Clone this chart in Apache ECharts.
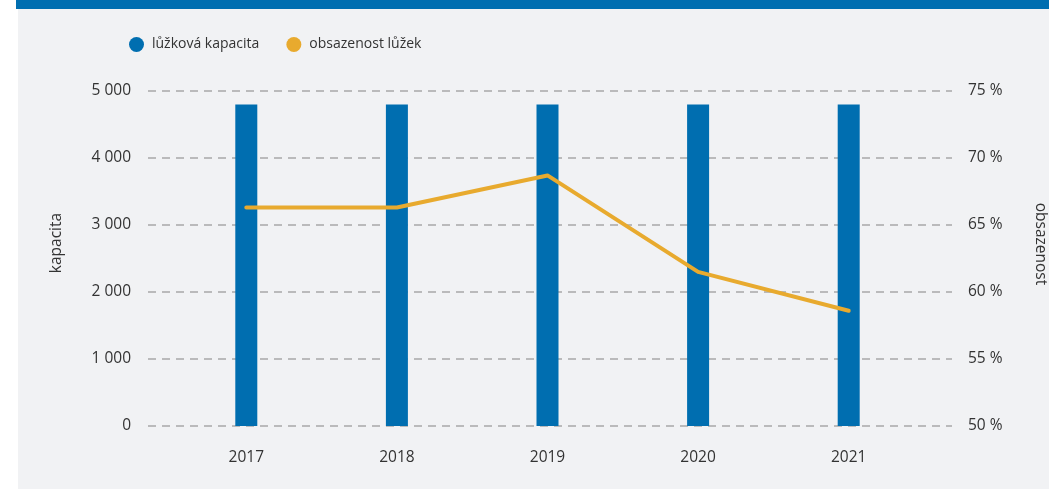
<!DOCTYPE html>
<html>
<head>
<meta charset="utf-8">
<script src="https://cdn.jsdelivr.net/npm/echarts@6/dist/echarts.min.js"></script>
<style>
  html, body { margin: 0; padding: 0; background: #fff; }
  #chart { width: 1049px; height: 489px; }
</style>
</head>
<body>
<div id="chart"></div>
<script>
// data
var years = ['2017', '2018', '2019', '2020', '2021']
var kapacita = [4800, 4800, 4800, 4800, 4800] // lůžková kapacita
var obsazenost = [66.3, 66.3, 68.7, 61.5, 58.6] // obsazenost lůžek v %
var leftTicks = [0, 5000, 1000]
var rightTicks = [50, 75, 5]

var blue = '#006eb0'
var orange = '#e8aa2e'
var txt = '#333333'
var font = 'Open Sans'

var chart = echarts.init(document.getElementById('chart'))

var option = {
  backgroundColor: '#ffffff',
  textStyle: { fontFamily: font },
  animation: false,
  graphic: [
    { type: 'rect', left: 18, top: 9, shape: { width: 1031, height: 480 }, style: { fill: '#f1f2f4' }, z: -10 },
    { type: 'rect', left: 16, top: 0, shape: { width: 1033, height: 9 }, style: { fill: '#006eb0' }, z: -10 },
    { type: 'text', x: 57, y: 243, rotation: Math.PI / 2, style: { text: 'kapacita', fill: txt, font: '15.5px "Open Sans"', align: 'center', verticalAlign: 'middle' } },
    { type: 'text', x: 1040, y: 244, rotation: -Math.PI / 2, style: { text: 'obsazenost', fill: txt, font: '15.5px "Open Sans"', align: 'center', verticalAlign: 'middle' } }
  ],
  legend: {
    left: 124,
    top: 32,
    icon: 'circle',
    itemWidth: 15,
    itemHeight: 15,
    itemGap: 27,
    textStyle: { color: txt, fontSize: 14, fontFamily: font, padding: [0, 0, 0, 3] },
    data: ['lůžková kapacita', 'obsazenost lůžek']
  },
  grid: [
    // grid for the gridlines and y labels
    { left: 148, right: 97, top: 91, bottom: 63 },
    // grid for the data
    { left: 171, right: 125, top: 91, bottom: 63 }
  ],
  xAxis: [
    { type: 'value', gridIndex: 0, show: false, min: 0, max: 1 },
    {
      type: 'category',
      gridIndex: 1,
      data: years,
      axisLine: { show: false },
      axisTick: { show: false },
      axisLabel: { color: txt, fontSize: 15.5, margin: 24 }
    }
  ],
  yAxis: [
    {
      type: 'value',
      gridIndex: 0,
      min: leftTicks[0],
      max: leftTicks[1],
      interval: leftTicks[2],
      axisLine: { show: false },
      axisTick: { show: false },
      axisLabel: {
        color: txt,
        fontSize: 15.5,
        margin: 17,
        formatter: function (v) { return String(v).replace(/\B(?=(\d{3})+(?!\d))/g, ' ') }
      },
      splitLine: { lineStyle: { color: '#a8a8a8', type: [8, 6], width: 1.5 } }
    },
    {
      type: 'value',
      gridIndex: 0,
      position: 'right',
      min: rightTicks[0],
      max: rightTicks[1],
      interval: rightTicks[2],
      axisLine: { show: false },
      axisTick: { show: false },
      axisLabel: { color: txt, fontSize: 15.5, margin: 16, formatter: '{value} %' },
      splitLine: { show: false }
    },
    { type: 'value', gridIndex: 1, show: false, min: leftTicks[0], max: leftTicks[1], splitLine: { show: false } },
    { type: 'value', gridIndex: 1, show: false, min: rightTicks[0], max: rightTicks[1], splitLine: { show: false } }
  ],
  series: [
    {
      name: 'lůžková kapacita',
      type: 'bar',
      xAxisIndex: 1,
      yAxisIndex: 2,
      data: kapacita,
      barWidth: 22,
      itemStyle: { color: blue }
    },
    {
      name: 'obsazenost lůžek',
      type: 'line',
      xAxisIndex: 1,
      yAxisIndex: 3,
      data: obsazenost,
      showSymbol: false,
      symbol: 'circle',
      itemStyle: { color: orange },
      lineStyle: { color: orange, width: 4, cap: 'round', join: 'round' }
    }
  ]
}

chart.setOption(option)
</script>
</body>
</html>
